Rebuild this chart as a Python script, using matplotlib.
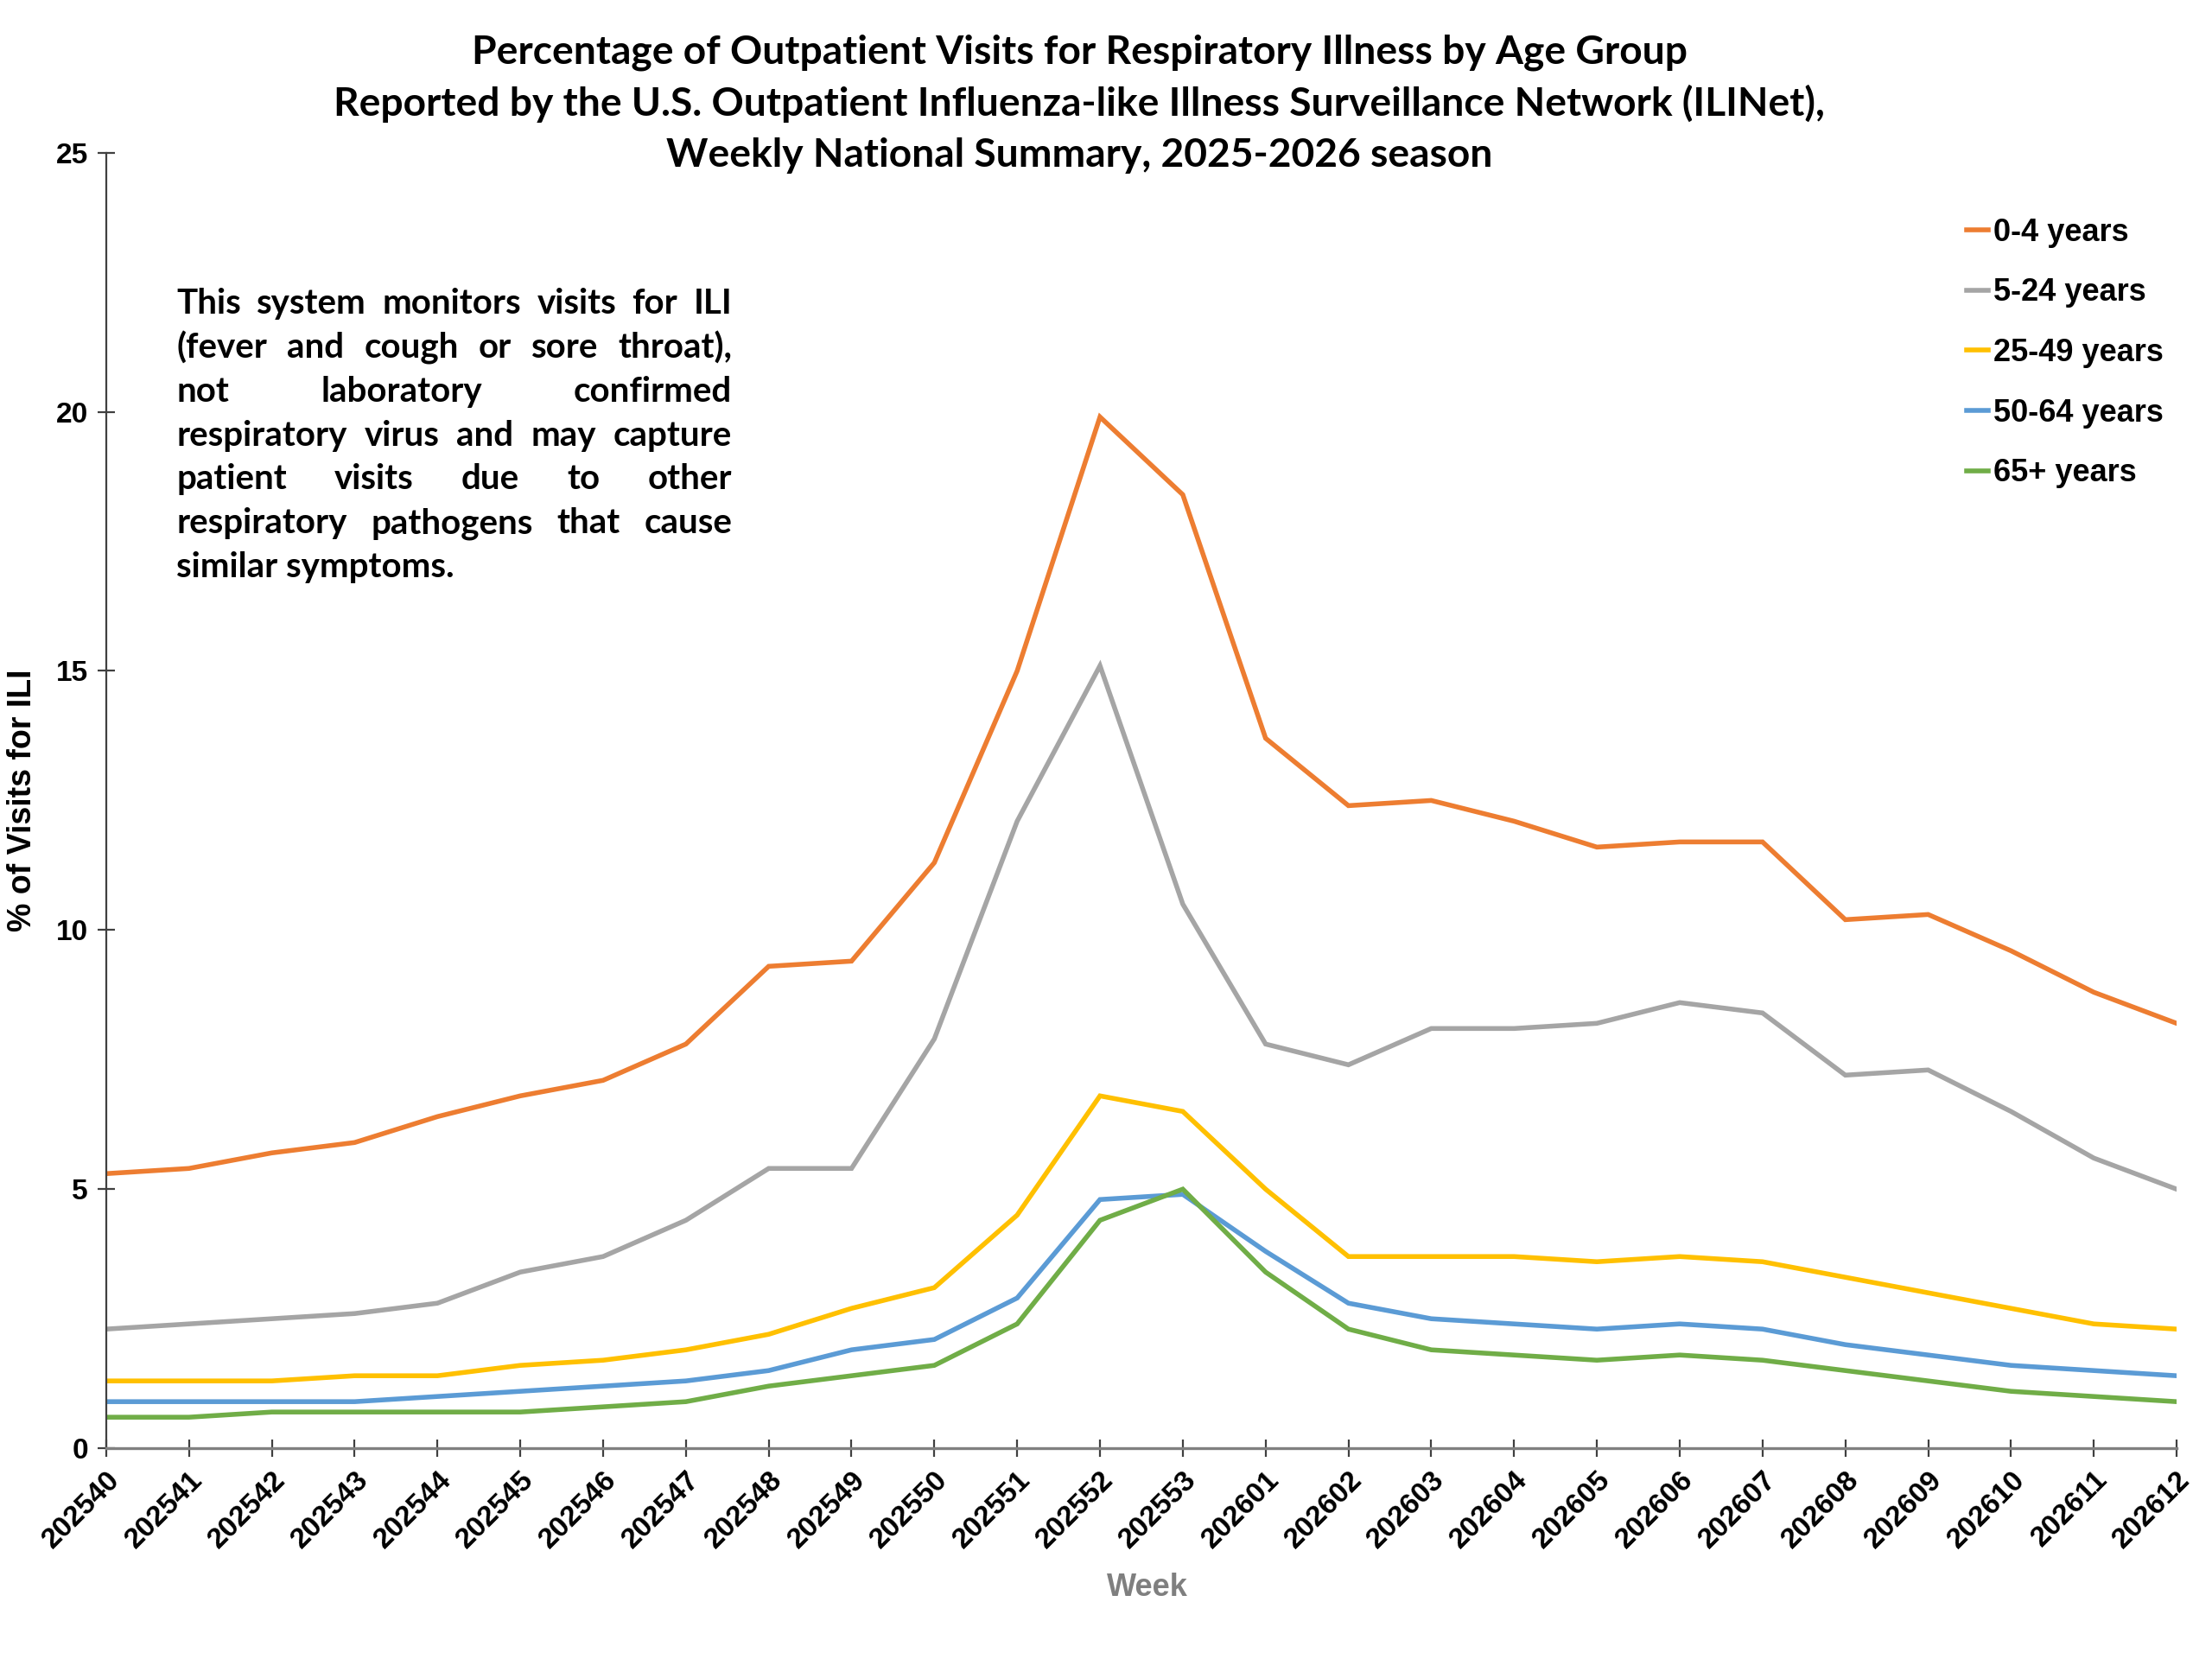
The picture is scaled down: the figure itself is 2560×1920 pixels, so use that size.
import matplotlib
matplotlib.use("Agg")
import matplotlib.pyplot as plt

# Weekly data.
weeks = ["202540", "202541", "202542", "202543", "202544", "202545", "202546",
         "202547", "202548", "202549", "202550", "202551", "202552", "202553",
         "202601", "202602", "202603", "202604", "202605", "202606", "202607",
         "202608", "202609", "202610", "202611", "202612"]

age_0_4 = [5.3, 5.4, 5.7, 5.9, 6.4, 6.8, 7.1, 7.8, 9.3, 9.4, 11.3, 15.0, 19.9,
           18.4, 13.7, 12.4, 12.5, 12.1, 11.6, 11.7, 11.7, 10.2, 10.3, 9.6,
           8.8, 8.2]
age_5_24 = [2.3, 2.4, 2.5, 2.6, 2.8, 3.4, 3.7, 4.4, 5.4, 5.4, 7.9, 12.1, 15.1,
            10.5, 7.8, 7.4, 8.1, 8.1, 8.2, 8.6, 8.4, 7.2, 7.3, 6.5, 5.6, 5.0]
age_25_49 = [1.3, 1.3, 1.3, 1.4, 1.4, 1.6, 1.7, 1.9, 2.2, 2.7, 3.1, 4.5, 6.8,
             6.5, 5.0, 3.7, 3.7, 3.7, 3.6, 3.7, 3.6, 3.3, 3.0, 2.7, 2.4, 2.3]
age_50_64 = [0.9, 0.9, 0.9, 0.9, 1.0, 1.1, 1.2, 1.3, 1.5, 1.9, 2.1, 2.9, 4.8,
             4.9, 3.8, 2.8, 2.5, 2.4, 2.3, 2.4, 2.3, 2.0, 1.8, 1.6, 1.5, 1.4]
age_65_plus = [0.6, 0.6, 0.7, 0.7, 0.7, 0.7, 0.8, 0.9, 1.2, 1.4, 1.6, 2.4, 4.4,
               5.0, 3.4, 2.3, 1.9, 1.8, 1.7, 1.8, 1.7, 1.5, 1.3, 1.1, 1.0, 0.9]

series_labels = ["0-4 years", "5-24 years", "25-49 years", "50-64 years", "65+ years"]
series_colors = ["#ED7D31", "#A5A5A5", "#FFC000", "#5B9BD5", "#70AD47"]

title_lines = [
    "Percentage of Outpatient Visits for Respiratory Illness by Age Group",
    "Reported by the U.S. Outpatient Influenza-like Illness Surveillance Network (ILINet),",
    "Weekly National Summary, 2025-2026 season",
]

note_lines = [
    "This system monitors visits for ILI",
    "(fever and cough or sore throat),",
    "not laboratory confirmed",
    "respiratory virus and may capture",
    "patient visits due to other",
    "respiratory pathogens that cause",
    "similar symptoms.",
]

ARIAL = "Liberation Sans"
TITLE_FONT = "Lato"

fig = plt.figure(figsize=(12.8, 9.6), dpi=200)
ax = fig.add_axes([0.048, 0.127, 0.936, 0.781])

x = list(range(len(weeks)))
for vals, lab, col in zip([age_0_4, age_5_24, age_25_49, age_50_64, age_65_plus],
                          series_labels, series_colors):
    ax.plot(x, vals, color=col, lw=2.0, label=lab, solid_joinstyle="miter")

ax.set_xlim(0, len(weeks) - 1)
ax.set_ylim(0, 25)
ax.set_yticks([0, 5, 10, 15, 20, 25])
ax.set_xticks(x)
ax.set_xticklabels(weeks, rotation=45, ha="right", rotation_mode="anchor")

for lbl in ax.get_xticklabels() + ax.get_yticklabels():
    lbl.set_fontfamily(ARIAL)
    lbl.set_fontweight("bold")
    lbl.set_fontsize(12)

ax.tick_params(axis="both", direction="inout", length=7, width=0.8, color="#404040")
ax.tick_params(axis="y", pad=4)
ax.tick_params(axis="x", pad=4)

ax.spines["right"].set_visible(False)
ax.spines["top"].set_visible(False)
ax.spines["left"].set_linewidth(0.8)
ax.spines["left"].set_color("#404040")
ax.spines["bottom"].set_linewidth(1.2)
ax.spines["bottom"].set_color("#808080")

ax.set_ylabel("% of Visits for ILI", fontfamily=ARIAL, fontweight="bold", fontsize=13.5)
ax.yaxis.set_label_coords(-0.033, 0.5)
ax.set_xlabel("Week", fontfamily=ARIAL, fontweight="bold", fontsize=13, color="#7F7F7F")
ax.xaxis.set_label_coords(0.503, -0.096)

# Title, three centred lines.
for i, line in enumerate(title_lines):
    fig.text(0.488, 0.9685 - i * 0.031, line, ha="center", va="center",
             fontfamily=TITLE_FONT, fontweight="bold", fontsize=16.6)

# Legend, no frame.
leg = ax.legend(loc="upper left", bbox_to_anchor=(0.889, 0.869),
                bbox_transform=fig.transFigure, frameon=False,
                borderpad=0, borderaxespad=0, handlelength=0.7,
                handletextpad=0.15, labelspacing=0.96,
                prop={"family": ARIAL, "weight": "bold", "size": 13})

# Justified note text block.
fig.canvas.draw()
renderer = fig.canvas.get_renderer()
fig_w = fig.bbox.width
x_left, x_right = 0.0797, 0.331
y_top, dy = 0.817, 0.0265
for i, line in enumerate(note_lines):
    y = y_top - i * dy
    style = dict(va="center", ha="left", fontfamily=TITLE_FONT,
                 fontweight="bold", fontsize=14.5)
    if i == len(note_lines) - 1:
        fig.text(x_left, y, line, **style)
        continue
    words = line.split()
    texts = [fig.text(0, y, w, **style) for w in words]
    widths = [t.get_window_extent(renderer).width for t in texts]
    gap = ((x_right - x_left) * fig_w - sum(widths)) / (len(words) - 1)
    pos = x_left * fig_w
    for t, w in zip(texts, widths):
        t.set_x(pos / fig_w)
        pos += w + gap

plt.savefig("out.png", dpi=200)
